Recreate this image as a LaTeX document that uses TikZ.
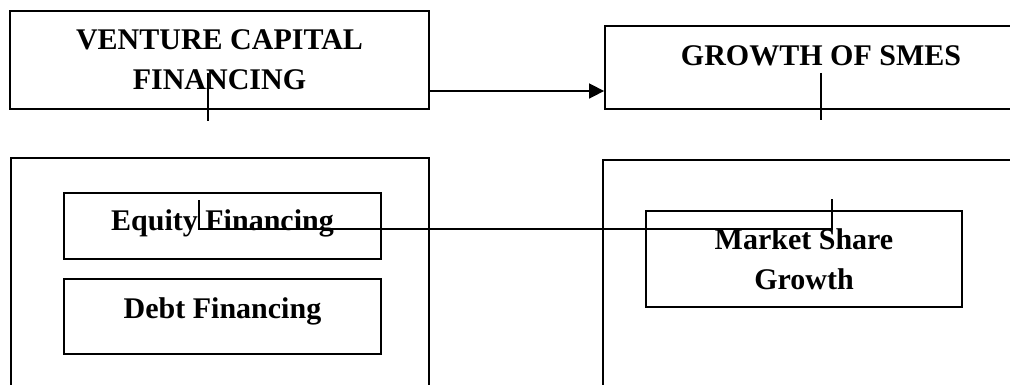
\documentclass[tikz,border=0pt]{standalone}
\usepackage{fontspec}
\setmainfont{Liberation Serif}
\usetikzlibrary{arrows.meta,calc,positioning}

\tikzset{
	blockbox/.style={draw=black,line width=1.8pt,rectangle,inner sep=0pt,align=center,font=\bfseries\fontsize{30}{40}\selectfont},
	framebox/.style={draw=black,line width=1.8pt,rectangle,inner sep=0pt},
	arrowline/.style={line width=1.6pt,-{Triangle[length=15pt,width=15pt]}},
	stubline/.style={line width=1.4pt},
	linkline/.style={line width=1.2pt}
}

\begin{document}
\begin{tikzpicture}[x=1pt,y=-1pt]
		\useasboundingbox (0,0) rectangle (1010,384);
		\clip (0,0) rectangle (1010,384);

		\node[blockbox,minimum width=419pt,minimum height=98pt] (vc) at (219.5,60) {VENTURE CAPITAL\\FINANCING};
		\node[blockbox,minimum width=432pt,minimum height=83pt,text height=20pt,text depth=25pt] (growth) at (821,67.5) {GROWTH OF SMES};

		\node[framebox,minimum width=418pt,minimum height=242pt] (leftframe) at (220,279) {};
		\node[framebox,minimum width=437pt,minimum height=240pt] (rightframe) at (821.5,280) {};

		\node[blockbox,minimum width=317pt,minimum height=66pt,text height=20pt,text depth=12pt] (equity) at (222.5,226) {Equity Financing};
		\node[blockbox,minimum width=317pt,minimum height=75pt,text height=20pt,text depth=17pt] (debt) at (222.5,316.5) {Debt Financing};
		\node[blockbox,minimum width=316pt,minimum height=96pt] (market) at (804,259) {Market Share\\Growth};

		\coordinate (arrowstart) at ($(vc.east)+(0,31)$);
		\draw[arrowline] (arrowstart) -- (arrowstart -| growth.west);

		\coordinate (vcstub1) at ($(vc.south)+(-11.5,-37)$);
		\coordinate (vcstub2) at ($(vc.south)+(-11.5,11)$);
		\draw[stubline] (vcstub1) -- (vcstub2);
		\coordinate (growthstub1) at ($(growth.south)+(0,-37)$);
		\coordinate (growthstub2) at ($(growth.south)+(0,10)$);
		\draw[stubline] (growthstub1) -- (growthstub2);

		\coordinate (eqlink) at ($(equity.center)+(-23.5,-26)$);
		\coordinate (eqcorner) at ($(eqlink)+(0,29)$);
		\coordinate (mklink) at ($(market.north)+(28,-11)$);
		\draw[linkline] (eqlink) -- (eqcorner) -| (mklink);
	\end{tikzpicture}
\end{document}
